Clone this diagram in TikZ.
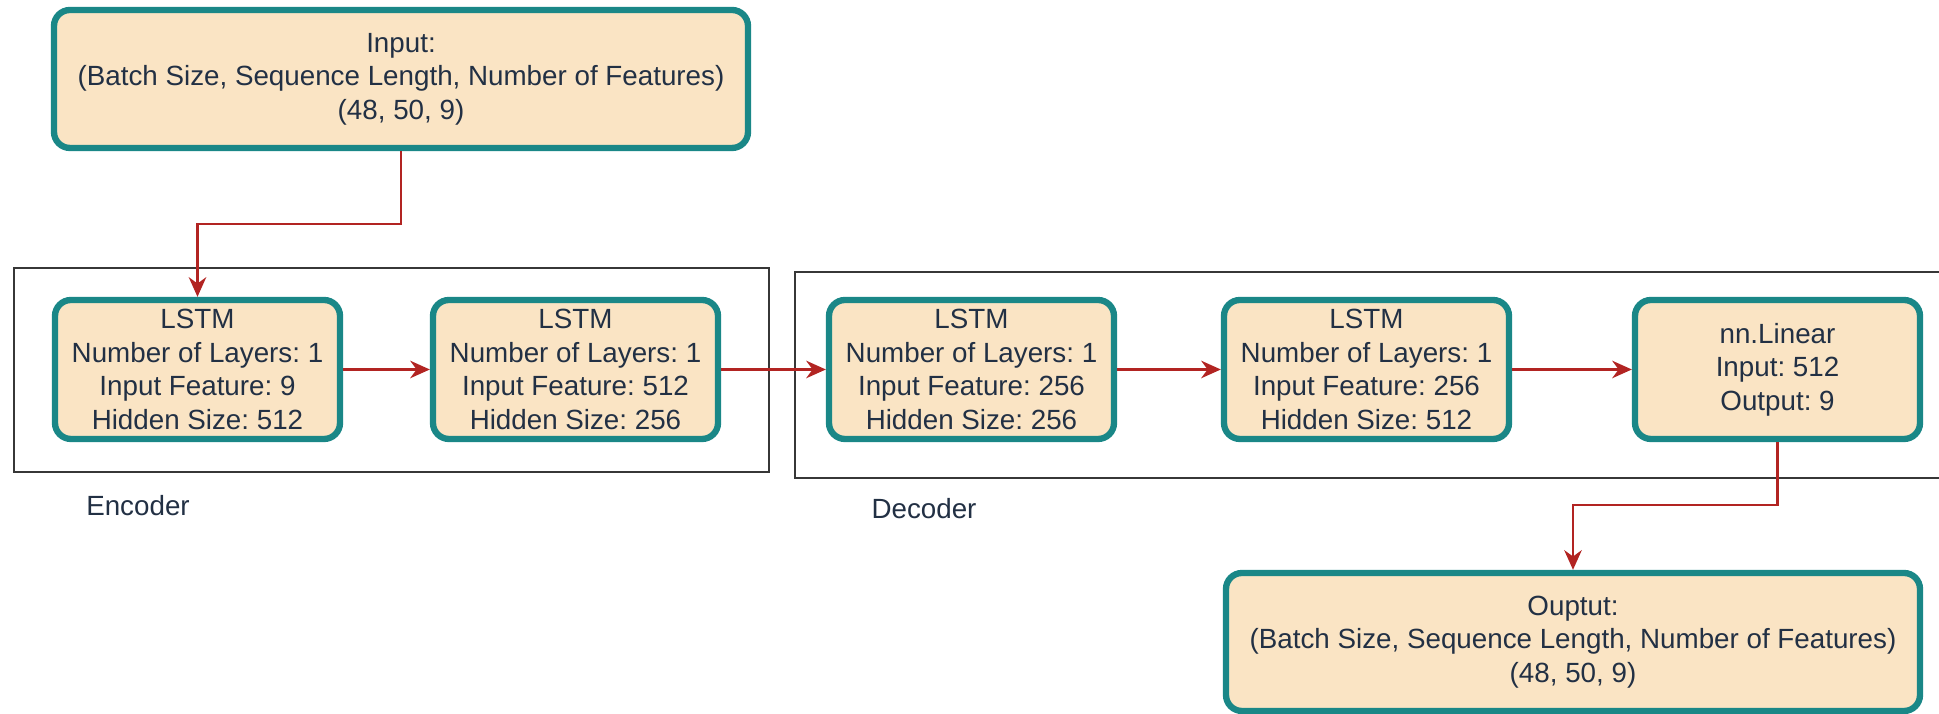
\documentclass[tikz,border=0pt]{standalone}
\usepackage{fontspec}
\setmainfont{Liberation Sans}
\usetikzlibrary{arrows.meta}
\definecolor{boxFill}{RGB}{250,228,196}
\definecolor{boxDraw}{RGB}{26,135,135}
\definecolor{flowRed}{RGB}{178,36,34}
\definecolor{textDark}{RGB}{34,48,68}
\definecolor{frameGray}{RGB}{55,55,55}
\frenchspacing

\begin{document}
\begin{tikzpicture}[
  >=Stealth,
  font=\fontsize{7.9pt}{9.5pt}\selectfont,
  block/.style={rectangle, rounded corners=0.16cm, draw=boxDraw, fill=boxFill,
    line width=1.8pt, text=textDark, align=center, inner sep=0pt},
  layer/.style={block, minimum width=2.85cm, minimum height=1.39cm},
  io/.style={block, minimum width=6.94cm, minimum height=1.38cm},
  group/.style={draw=frameGray, line width=0.6pt},
  grouplabel/.style={text=textDark},
  flow/.style={draw=flowRed, line width=0.6pt, -{Stealth[length=5.6pt, width=5pt]}}
]
\useasboundingbox (0,0) rectangle (19.39,7.14);

% Encoder and decoder frames.
\draw[group] (0.14,2.42) rectangle (7.69,4.46);
\draw[group] (19.39,4.42) -- (7.95,4.42) -- (7.95,2.36) -- (19.39,2.36);
\node[grouplabel] (enc) at (1.38,2.08) {Encoder};
\node[grouplabel] (dec) at (9.24,2.05) {Decoder};

% Input and output shapes.
\node[io] (inp) at (4.01,6.35)
  {Input:\\(Batch Size, Sequence Length, Number of Features)\\(48, 50, 9)};
\node[io] (out) at (15.73,0.72)
  {Ouptut:\\(Batch Size, Sequence Length, Number of Features)\\(48, 50, 9)};

% Layers.
\node[layer] (encA) at (1.975,3.445)
  {LSTM\\Number of Layers: 1\\Input Feature: 9\\Hidden Size: 512};
\node[layer] (encB) at (5.755,3.445)
  {LSTM\\Number of Layers: 1\\Input Feature: 512\\Hidden Size: 256};
\node[layer] (decA) at (9.715,3.445)
  {LSTM\\Number of Layers: 1\\Input Feature: 256\\Hidden Size: 256};
\node[layer] (decB) at (13.665,3.445)
  {LSTM\\Number of Layers: 1\\Input Feature: 256\\Hidden Size: 512};
\node[layer] (lin) at (17.775,3.445)
  {nn.Linear\\Input: 512\\Output: 9};

% Data flow.
\draw[flow] (inp.south) -- ++(0,-0.73) -| (encA.north);
\draw[flow] (encA) -- (encB);
\draw[flow] (encB) -- (decA);
\draw[flow] (decA) -- (decB);
\draw[flow] (decB) -- (lin);
\draw[flow] (lin.south) -- ++(0,-0.63) -| (out.north);

\end{tikzpicture}
\end{document}
